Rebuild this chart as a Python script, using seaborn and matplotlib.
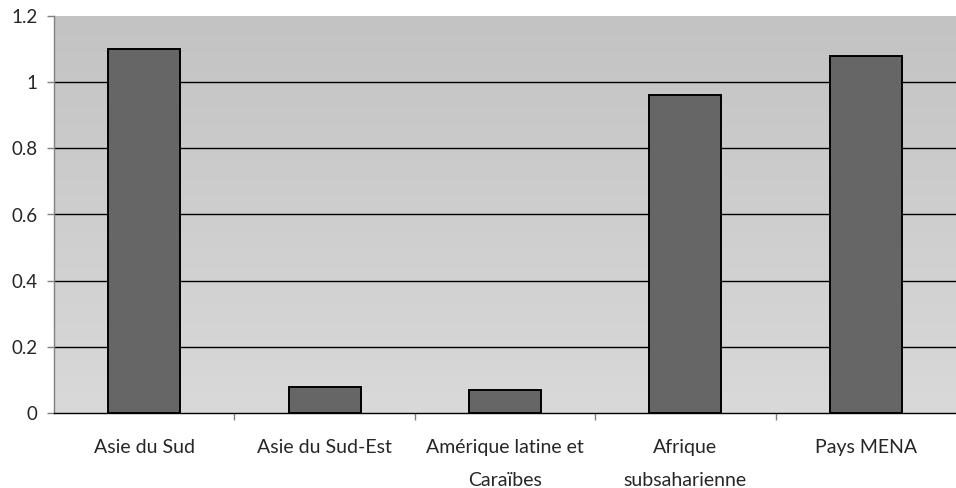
import numpy as np
import pandas as pd
import matplotlib
matplotlib.use("Agg")
import matplotlib.pyplot as plt
import seaborn as sns

categories = ["Asie du Sud", "Asie du Sud-Est", "Amérique latine et\nCaraïbes",
              "Afrique\nsubsaharienne", "Pays MENA"]
values = [1.10, 0.08, 0.07, 0.96, 1.08]
yticks = [0, 0.2, 0.4, 0.6, 0.8, 1.0, 1.2]
ytick_labels = ["0", "0.2", "0.4", "0.6", "0.8", "1", "1.2"]

sns.set_style("white")
plt.rcParams["font.family"] = ["Lato", "DejaVu Sans"]

df = pd.DataFrame({"cat": categories, "val": values})

fig = plt.figure(figsize=(9.56, 4.88), dpi=100)
ax = fig.add_axes([54/956, 75/488, 1 - 54/956, (413-16)/488])

# gradient background
grad = np.linspace(0, 1, 256).reshape(-1, 1)
ax.imshow(grad, extent=[0, 1, 0, 1], transform=ax.transAxes, aspect="auto",
          cmap=matplotlib.colors.LinearSegmentedColormap.from_list("g", ["#d9d9d9", "#c3c3c3"]),
          origin="lower", zorder=0)

sns.barplot(data=df, x="cat", y="val", color="#666666", edgecolor="black",
            linewidth=1.4, width=0.4, saturation=1, ax=ax, zorder=3)

ax.set_ylim(0, 1.2)
ax.set_xlim(-0.5, 4.5)
ax.set_yticks(yticks)
ax.set_yticklabels(ytick_labels)
for y in yticks[1:-1]:
    ax.axhline(y, color="black", linewidth=1, zorder=1)

ax.set_xticks(range(len(categories)))
ax.set_xticklabels(categories, fontsize=14, linespacing=2.1)
ax.set_xticks(np.arange(0.5, 4.5, 1), minor=True)
ax.tick_params(axis="x", which="major", length=0, pad=19)
ax.tick_params(axis="x", which="minor", length=5, width=1, color="#808080", direction="out", bottom=True)
ax.tick_params(axis="y", length=5, width=1, color="#808080", direction="out", labelsize=13.5, pad=7, left=True)

ax.set_xlabel("")
ax.set_ylabel("")
for s in ["top", "right"]:
    ax.spines[s].set_visible(False)
ax.spines["left"].set_color("#808080")
ax.spines["left"].set_linewidth(1)
ax.spines["bottom"].set_color("black")
ax.spines["bottom"].set_linewidth(1)
ax.spines["bottom"].set_zorder(5)

fig.savefig("out.png", dpi=100, facecolor="white")
